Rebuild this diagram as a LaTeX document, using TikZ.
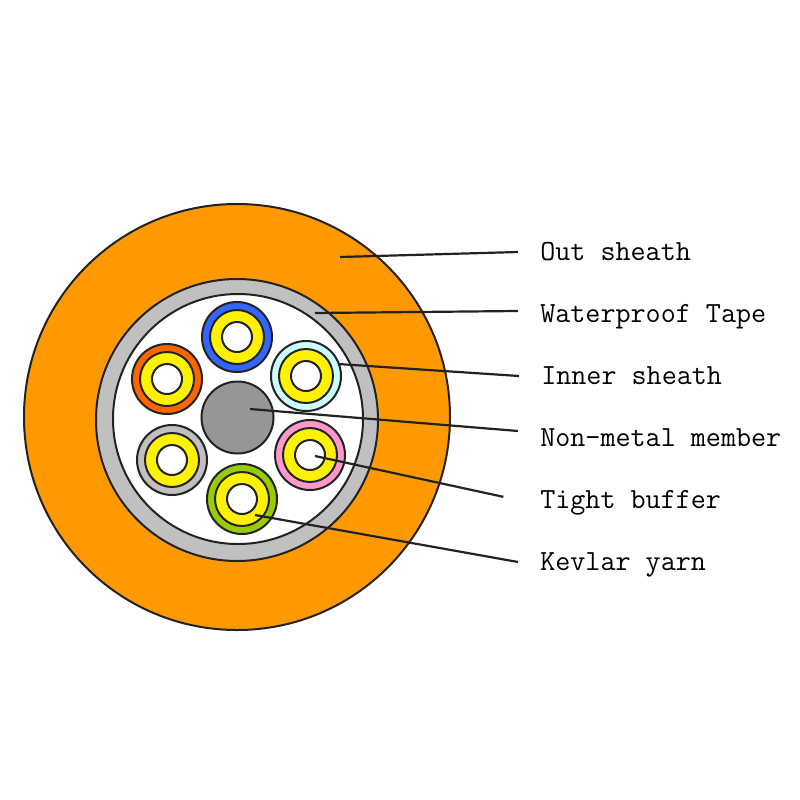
\documentclass[tikz,border=0pt]{standalone}
\usepackage{xcolor}
\definecolor{sheathorange}{HTML}{FF9900}
\definecolor{tapegray}{HTML}{C0C0C0}
\definecolor{coregray}{HTML}{969696}
\definecolor{tubeblue}{HTML}{3366FF}
\definecolor{tubeorange}{HTML}{FF6600}
\definecolor{tubecyan}{HTML}{CCFFFF}
\definecolor{tubepink}{HTML}{FF99CC}
\definecolor{tubegreen}{HTML}{99CC00}
\definecolor{edgeblack}{HTML}{222222}

\begin{document}
\begin{tikzpicture}[
  x=0.25mm, y=-0.25mm,
  disc/.style={circle, draw=edgeblack, line width=0.5mm, inner sep=0pt},
  tag/.style={anchor=west, inner xsep=5.5mm, inner ysep=0pt, text height=5mm, text depth=1.5mm, font=\ttfamily\fontsize{20.8pt}{24pt}\selectfont},
  line/.style={line width=0.55mm, draw=edgeblack}
]
\useasboundingbox (0,0) rectangle (800,800);

% cable body
\node[disc, fill=sheathorange, minimum size=106.5mm] (outer) at (237,417) {};
\node[disc, fill=tapegray, minimum size=70.5mm] (tape) at (237,420) {};
\node[disc, fill=white, minimum size=62.5mm] (inner) at (238,419) {};
\node[disc, fill=coregray, minimum size=18mm] (core) at (237.5,417.5) {};

% six tubes
\foreach \tname/\tx/\ty/\tcol in {blue/237/337/tubeblue, orange/167/379/tubeorange, cyan/306/376/tubecyan,
    pink/310/455/tubepink, green/242/499/tubegreen, gray/172/460/tapegray} {
  \node[disc, fill=\tcol, minimum size=17.5mm] (\tname) at (\tx,\ty) {};
  \node[disc, fill=yellow, minimum size=13.5mm] (\tname Buf) at (\tx,\ty) {};
  \node[disc, fill=white, minimum size=7.5mm] (\tname Hole) at (\tx,\ty) {};
}

% labels
\node[tag] (lblOut) at (518,253) {Out sheath};
\node[tag] (lblTape) at (518,315) {Waterproof Tape};
\node[tag] (lblInner) at (519,377) {Inner sheath};
\node[tag] (lblCore) at (518,439) {Non-metal member};
\node[tag] (lblBuf) at (518,501) {Tight buffer};
\node[tag] (lblYarn) at (518,563) {Kevlar yarn};

% leader start points
\coordinate (tipOut) at (340,257);
\coordinate (tipTape) at (315,313);
\coordinate (tipInner) at (338,364);
\coordinate (tipCore) at (250,409);
\coordinate (tipBuf) at (315,456);
\coordinate (tipYarn) at (255,515);

\draw[line] (tipOut) -- ([yshift=0.25mm]lblOut.west);
\draw[line] (tipTape) -- ([yshift=1mm]lblTape.west);
\draw[line] (tipInner) -- ([yshift=0.25mm]lblInner.west);
\draw[line] (tipCore) -- ([yshift=2mm]lblCore.west);
\draw[line, shorten >=3.75mm] (tipBuf) -- ([yshift=0.25mm]lblBuf.west);
\draw[line] (tipYarn) -- ([yshift=0.25mm]lblYarn.west);
\end{tikzpicture}
\end{document}
